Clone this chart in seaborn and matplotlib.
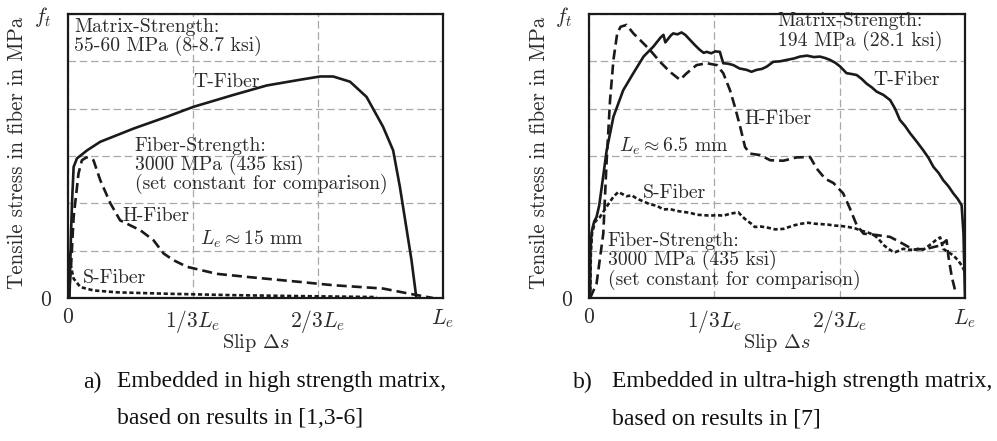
import matplotlib
matplotlib.use("Agg")
import matplotlib.pyplot as plt
import seaborn as sns
import pandas as pd

# Slip in fractions of the embedded length L_e, stress in sixths of f_t
a_t_slip = [0.0, 0.004, 0.008, 0.011, 0.015, 0.024, 0.051, 0.086, 0.175, 0.264, 0.335, 0.441,
            0.530, 0.618, 0.672, 0.707, 0.752, 0.796, 0.840, 0.867, 0.885, 0.902, 0.916, 0.929]
a_t_stress = [0.0, 0.0, 1.36, 2.07, 2.77, 2.95, 3.12, 3.30, 3.58, 3.83, 4.04, 4.29,
              4.49, 4.61, 4.68, 4.68, 4.57, 4.25, 3.62, 3.12, 2.35, 1.50, 0.80, 0.0]

a_h_slip = [0.002, 0.008, 0.015, 0.028, 0.037, 0.049, 0.068, 0.086, 0.113, 0.139, 0.193, 0.228,
            0.255, 0.281, 0.317, 0.397, 0.485, 0.618, 0.707, 0.840, 0.911, 0.973]
a_h_stress = [0.0, 0.66, 1.71, 2.63, 2.91, 2.97, 2.91, 2.49, 2.00, 1.64, 1.43, 1.22,
              0.94, 0.80, 0.66, 0.51, 0.44, 0.34, 0.27, 0.20, 0.09, 0.0]

a_s_slip = [0.0, 0.003, 0.006, 0.015, 0.033, 0.068, 0.130, 0.264, 0.441, 0.618, 0.823]
a_s_stress = [0.0, 0.94, 0.73, 0.41, 0.23, 0.16, 0.12, 0.09, 0.06, 0.04, 0.02]

b_t_slip = [0.003, 0.004, 0.007, 0.010, 0.014, 0.020, 0.027, 0.034, 0.047, 0.065, 0.091, 0.118,
            0.145, 0.171, 0.190, 0.198, 0.203, 0.210, 0.218, 0.224, 0.235, 0.246, 0.256, 0.269,
            0.282, 0.295, 0.305, 0.313, 0.325, 0.336, 0.348, 0.357, 0.370, 0.384, 0.400, 0.419,
            0.432, 0.446, 0.460, 0.473, 0.490, 0.508, 0.526, 0.545, 0.561, 0.580, 0.598, 0.614,
            0.628, 0.641, 0.655, 0.668, 0.685, 0.700, 0.712, 0.725, 0.738, 0.752, 0.765, 0.783,
            0.801, 0.814, 0.827, 0.841, 0.854, 0.872, 0.889, 0.903, 0.916, 0.930, 0.942, 0.956,
            0.969, 0.981, 0.991, 0.996, 0.998, 1.0]
b_t_stress = [0.0, 1.01, 1.38, 1.50, 1.62, 1.71, 1.95, 2.35, 3.12, 3.83, 4.39, 4.75,
              5.10, 5.31, 5.50, 5.56, 5.40, 5.47, 5.55, 5.59, 5.57, 5.61, 5.56, 5.45,
              5.34, 5.24, 5.18, 5.20, 5.17, 5.21, 5.20, 4.96, 4.95, 4.92, 4.85, 4.82,
              4.78, 4.82, 4.84, 4.89, 4.99, 5.00, 5.03, 5.06, 5.10, 5.12, 5.09, 5.10,
              5.07, 5.03, 4.97, 4.89, 4.75, 4.73, 4.71, 4.63, 4.53, 4.45, 4.36, 4.29,
              4.18, 4.00, 3.76, 3.63, 3.48, 3.30, 3.12, 2.96, 2.77, 2.64, 2.49, 2.36,
              2.21, 2.09, 1.96, 1.36, 0.66, 0.02]

b_h_slip = [0.003, 0.020, 0.038, 0.047, 0.056, 0.065, 0.075, 0.084, 0.100, 0.118, 0.136, 0.162,
            0.189, 0.215, 0.242, 0.260, 0.286, 0.313, 0.340, 0.357, 0.375, 0.388, 0.402, 0.415,
            0.428, 0.455, 0.482, 0.517, 0.552, 0.588, 0.605, 0.628, 0.650, 0.676, 0.694, 0.712,
            0.730, 0.765, 0.801, 0.827, 0.863, 0.898, 0.934, 0.951, 0.956, 0.965, 0.976]
b_h_stress = [0.0, 0.30, 1.36, 2.91, 4.18, 5.03, 5.59, 5.73, 5.77, 5.59, 5.45, 5.24,
              4.99, 4.78, 4.61, 4.75, 4.92, 4.96, 4.92, 4.75, 4.39, 4.04, 3.62, 3.19,
              3.05, 3.02, 2.91, 2.90, 2.97, 2.98, 2.74, 2.52, 2.43, 2.21, 1.89, 1.54,
              1.36, 1.33, 1.29, 1.18, 1.02, 1.04, 1.11, 1.22, 0.87, 0.44, 0.09]

b_s_slip = [0.003, 0.005, 0.008, 0.016, 0.029, 0.047, 0.065, 0.078, 0.090, 0.100, 0.114, 0.127,
            0.145, 0.162, 0.180, 0.198, 0.215, 0.233, 0.250, 0.269, 0.286, 0.304, 0.322, 0.340,
            0.358, 0.375, 0.397, 0.408, 0.419, 0.430, 0.441, 0.457, 0.473, 0.495, 0.517, 0.532,
            0.548, 0.565, 0.583, 0.600, 0.619, 0.636, 0.654, 0.672, 0.690, 0.708, 0.725, 0.740,
            0.752, 0.763, 0.774, 0.785, 0.796, 0.806, 0.814, 0.825, 0.836, 0.850, 0.863, 0.876,
            0.889, 0.903, 0.916, 0.925, 0.934, 0.942, 0.955, 0.969, 0.981, 0.991, 1.0]
b_s_stress = [0.0, 0.94, 1.36, 1.61, 1.71, 1.93, 2.14, 2.24, 2.19, 2.15, 2.17, 2.10,
              2.04, 1.98, 1.95, 1.87, 1.88, 1.84, 1.82, 1.80, 1.76, 1.75, 1.74, 1.75,
              1.74, 1.78, 1.81, 1.72, 1.64, 1.58, 1.50, 1.51, 1.49, 1.45, 1.46, 1.50,
              1.54, 1.57, 1.59, 1.57, 1.56, 1.55, 1.53, 1.52, 1.50, 1.47, 1.42, 1.39,
              1.35, 1.30, 1.21, 1.11, 1.04, 0.99, 0.97, 1.00, 1.04, 1.02, 1.02, 1.04,
              1.02, 1.10, 1.18, 1.24, 1.28, 1.04, 0.97, 0.90, 0.80, 0.69, 0.55]

x_ticks = [0, 1 / 3, 2 / 3, 1]
x_tick_labels = ["0", r"$1/3L_e$", r"$2/3L_e$", r"$L_e$"]
y_ticks = [0, 1, 2, 3, 4, 5, 6]
y_tick_labels = ["0", "", "", "", "", "", r"$f_t$"]

captions = [
    ("a)", "Embedded in high strength matrix,", "based on results in [1,3-6]"),
    ("b)", "Embedded in ultra-high strength matrix,", "based on results in [7]"),
]

sns.set_style("white")
plt.rcParams["font.family"] = ["cmr10", "DejaVu Serif"]
plt.rcParams["mathtext.fontset"] = "cm"
plt.rcParams["axes.unicode_minus"] = False

INK = "#1a1a1a"
TXT = "#2b2b2b"
FS = 14.2

fig = plt.figure(figsize=(9.97, 4.41), dpi=100)
ax_a = fig.add_axes([68 / 997, 143 / 441, 375 / 997, 284 / 441])
ax_b = fig.add_axes([589 / 997, 143 / 441, 376 / 997, 284 / 441])

styles = {
    "T": dict(linestyle="-", linewidth=1.9),
    "H": dict(linestyle=(0, (3.8, 1.9)), linewidth=1.9),
    "S": dict(linestyle=(0, (1.6, 1.0)), linewidth=1.9),
}


def draw_curve(ax, xs, ys, key):
    df = pd.DataFrame({"slip": xs, "stress": ys})
    sns.lineplot(data=df, x="slip", y="stress", ax=ax, sort=False, estimator=None,
                 color=INK, **styles[key])


draw_curve(ax_a, a_t_slip, a_t_stress, "T")
draw_curve(ax_a, a_h_slip, a_h_stress, "H")
draw_curve(ax_a, a_s_slip, a_s_stress, "S")
draw_curve(ax_b, b_t_slip, b_t_stress, "T")
draw_curve(ax_b, b_h_slip, b_h_stress, "H")
draw_curve(ax_b, b_s_slip, b_s_stress, "S")

for ax in (ax_a, ax_b):
    ax.set_xlim(0, 1)
    ax.set_ylim(0, 6)
    ax.set_xticks(x_ticks)
    ax.set_xticklabels(x_tick_labels)
    ax.set_yticks(y_ticks)
    ax.set_yticklabels(y_tick_labels)
    ax.tick_params(direction="in", length=4, width=1.0, color=INK, labelsize=15.5,
                   labelcolor=TXT, pad=7)
    ax.tick_params(axis="y", pad=12)
    ax.grid(True, color="#a8a8a8", linestyle=(0, (6, 3)), linewidth=0.9)
    ax.set_axisbelow(True)
    for sp in ax.spines.values():
        sp.set_color(INK)
        sp.set_linewidth(1.6)
    ax.set_xlabel(r"Slip $\Delta s$", fontsize=FS + 0.4, color=TXT)
    ax.set_ylabel("Tensile stress in fiber in MPa", fontsize=15.2, color=TXT)
    ax.xaxis.set_label_coords(0.5, -0.12)

ax_a.yaxis.set_label_coords(-0.109, 0.512)
ax_b.yaxis.set_label_coords(-0.106, 0.512)

# Panel a annotations
tk = dict(fontsize=FS, color=TXT, va="center", ha="left")
ax_a.text(0.016, 5.72, "Matrix-Strength:", **tk)
ax_a.text(0.016, 5.32, "55-60 MPa (8-8.7 ksi)", **tk)
ax_a.text(0.334, 4.56, "T-Fiber", **tk)
ax_a.text(0.178, 3.22, "Fiber-Strength:", **tk)
ax_a.text(0.178, 2.82, "3000 MPa (435 ksi)", **tk)
ax_a.text(0.178, 2.42, "(set constant for comparison)", **tk)
ax_a.text(0.144, 1.73, "H-Fiber", **tk)
ax_a.text(0.352, 1.24, r"$L_e \approx 15$ mm", **tk)
ax_a.text(0.040, 0.43, "S-Fiber", **tk)

# Panel b annotations
ax_b.text(0.502, 5.85, "Matrix-Strength:", **tk)
ax_b.text(0.502, 5.43, "194 MPa (28.1 ksi)", **tk)
ax_b.text(0.755, 4.61, "T-Fiber", **tk)
ax_b.text(0.412, 3.78, "H-Fiber", **tk)
ax_b.text(0.080, 3.20, r"$L_e \approx 6.5$ mm", **tk)
ax_b.text(0.144, 2.21, "S-Fiber", **tk)
ax_b.text(0.050, 1.20, "Fiber-Strength:", **tk)
ax_b.text(0.050, 0.80, "3000 MPa (435 ksi)", **tk)
ax_b.text(0.050, 0.38, "(set constant for comparison)", **tk)

# Captions below each panel
cap = dict(fontsize=17, color="#111111", va="center", ha="left",
           family=["Liberation Serif", "DejaVu Serif"])
for (tag, l1, l2), x0, x1 in zip(captions, (83, 573), (117, 612)):
    fig.text(x0 / 997, 1 - 382 / 441, tag, **cap)
    fig.text(x1 / 997, 1 - 382 / 441, l1, **cap)
    fig.text(x1 / 997, 1 - 419 / 441, l2, **cap)

fig.savefig("out.png", dpi=100)
